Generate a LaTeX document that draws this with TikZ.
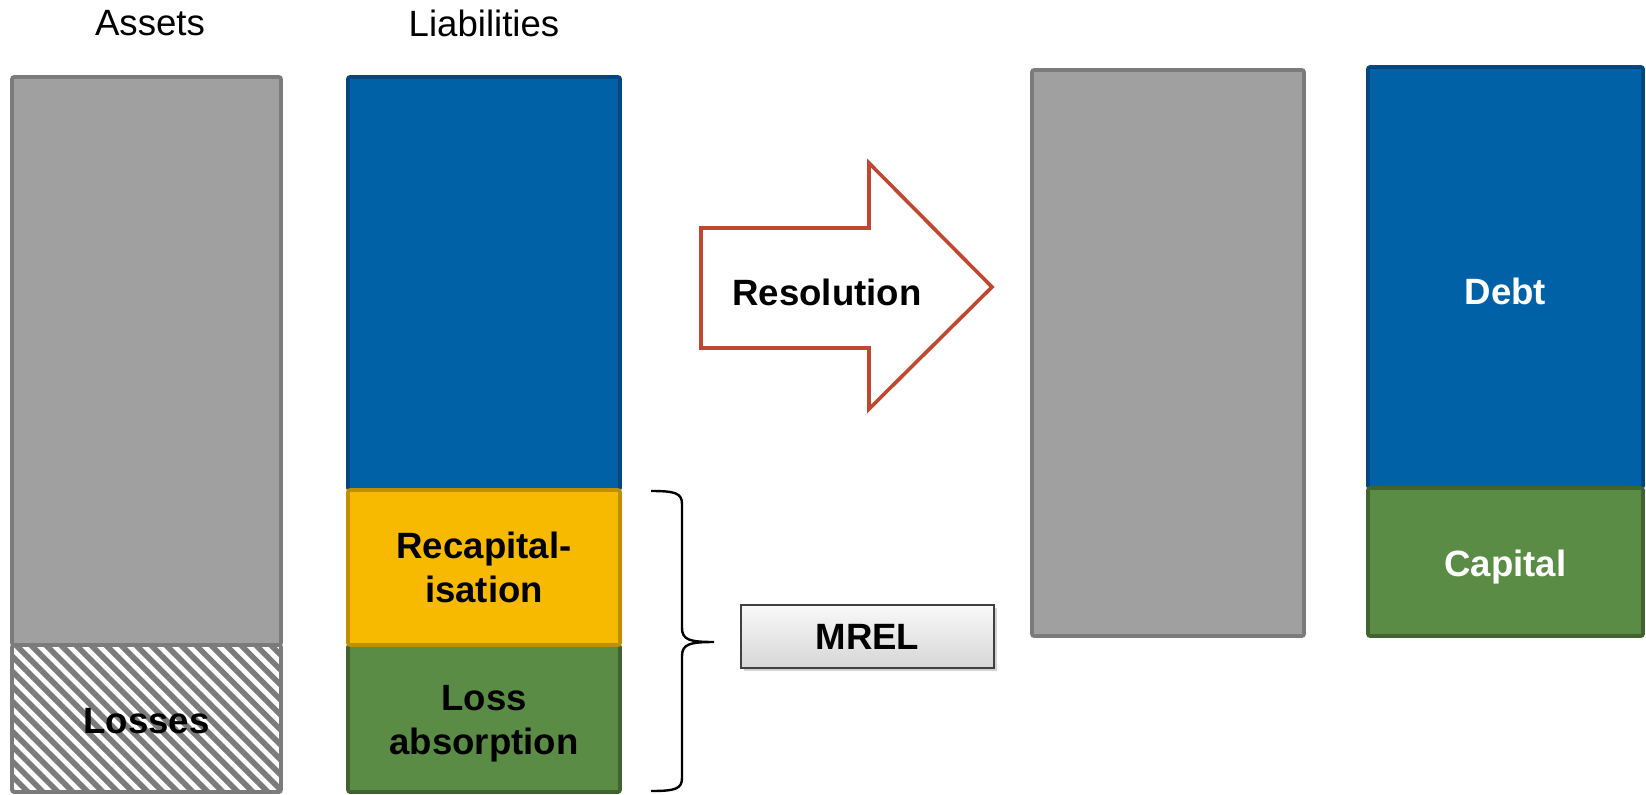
\documentclass[tikz,border=0pt]{standalone}
\usepackage{fontspec}
\setmainfont{Liberation Sans}
\usetikzlibrary{patterns.meta,shadows}

\definecolor{bargray}{RGB}{160,160,160}
\definecolor{bargrayline}{RGB}{123,123,123}
\definecolor{debtblue}{RGB}{0,97,166}
\definecolor{debtblueline}{RGB}{0,70,128}
\definecolor{recapyellow}{RGB}{248,186,0}
\definecolor{recapyellowline}{RGB}{191,143,0}
\definecolor{capgreen}{RGB}{91,140,69}
\definecolor{capgreenline}{RGB}{65,99,47}
\definecolor{arrowred}{RGB}{192,72,48}

\tikzset{
  bar/.style={draw, line width=1.8pt, rounded corners=1pt, inner sep=0pt,
    align=center, font=\bfseries\fontsize{18.3}{22}\selectfont},
  graybar/.style={bar, fill=bargray, draw=bargrayline},
  bluebar/.style={bar, fill=debtblue, draw=debtblueline, text=white},
  yellowbar/.style={bar, fill=recapyellow, draw=recapyellowline},
  greenbar/.style={bar, fill=capgreen, draw=capgreenline},
  headtext/.style={font=\fontsize{18.3}{22}\selectfont},
  boldtext/.style={font=\bfseries\fontsize{18.3}{22}\selectfont}
}

\begin{document}
\begin{tikzpicture}[x=0.5pt,y=-0.5pt]
    \useasboundingbox (0,0) rectangle (1646,794);

    \node[headtext] (assetshead) at (150,23) {Assets};
    \node[headtext] (liabhead) at (484,23) {Liabilities};

    \node[graybar, minimum width=134.5pt, minimum height=284pt] (assets) at (146.5,361) {};
    \node[bar, draw=bargrayline, pattern={Lines[angle=-45,distance=5.3pt,line width=2.8pt]},
      pattern color=bargrayline, minimum width=134.5pt, minimum height=73.5pt] (losses) at (146.5,718.5) {};
    \node[boldtext] (lossestext) at (146.5,721) {Losses};

    \node[bluebar, minimum width=136pt, minimum height=206.5pt] (liab) at (484,283.5) {};
    \node[greenbar, minimum width=136pt, minimum height=73.5pt] (lossabs) at (484,718.5) {};
    \node[boldtext, align=center] (lossabstext) at (484,724) {Loss\\absorption};
    \node[yellowbar, minimum width=136pt, minimum height=77.5pt] (recap) at (484,567.5) {Recapital-\\isation};

    \coordinate (bracetop) at (651,491);
    \coordinate (bracebot) at (651,791);
    \draw[line width=1.2pt]
      (bracetop) .. controls (675,491) and (682,493) .. (682,504)
      -- (682,628) .. controls (682,640) and (690,642) .. (714,642)
      .. controls (690,642) and (682,644) .. (682,656)
      -- (682,778) .. controls (682,789) and (675,791) .. (bracebot);

    \node[bar, line width=0.8pt, rounded corners=0pt, draw=black!75, top color=gray!5, bottom color=gray!32,
      drop shadow={shadow xshift=1.5pt, shadow yshift=-1.5pt, opacity=0.35},
      minimum width=126.5pt, minimum height=31.5pt] (mrel) at (867.5,636.5) {MREL};

    \draw[arrowred, line width=1.8pt, fill=white]
      (701,228) -- (869,228) -- (869,163) -- (992,287) -- (869,409) -- (869,348) -- (701,348) -- cycle;
    \node[boldtext] (resolution) at (827,292) {Resolution};

    \node[graybar, minimum width=136pt, minimum height=283pt] (newassets) at (1168,353) {};
    \node[bluebar, minimum width=137.5pt, minimum height=210.5pt] (debt) at (1505.5,277.5) {};
    \node[boldtext, text=white] (debttext) at (1505.5,291) {Debt};
    \node[greenbar, minimum width=137.5pt, minimum height=74pt] (capital) at (1505.5,562) {};
    \node[boldtext, text=white] (capitaltext) at (1505.5,567) {Capital};
\end{tikzpicture}
\end{document}
